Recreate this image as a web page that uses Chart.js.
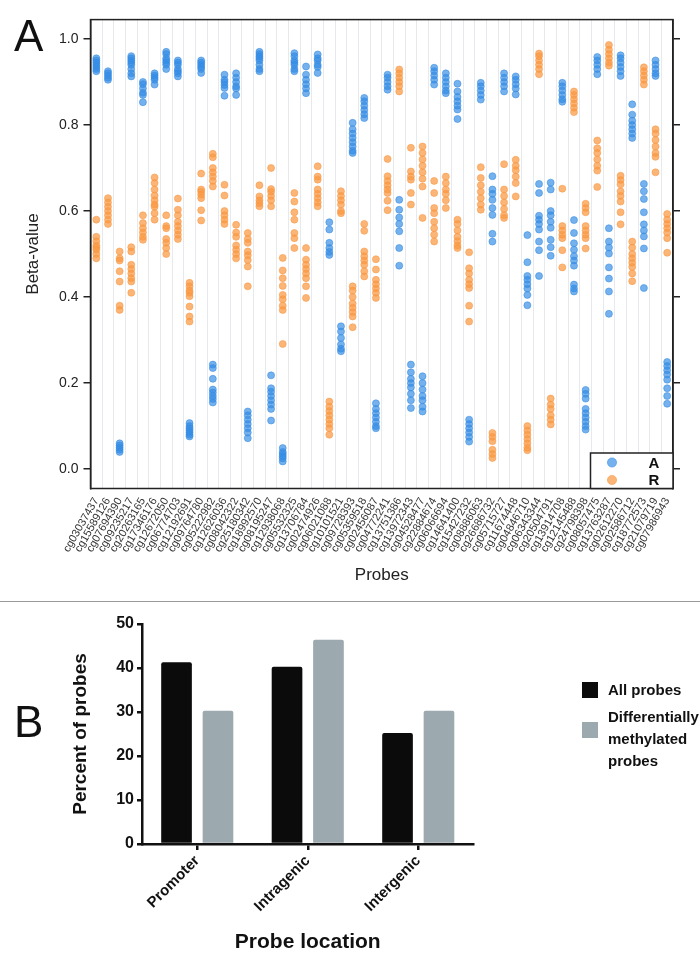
<!DOCTYPE html>
<html>
<head>
<meta charset="utf-8">
<script src="https://cdn.jsdelivr.net/npm/chart.js@4.4.1/dist/chart.umd.min.js"></script>
<style>
  body { margin:0; background:#fff; font-family:"Liberation Sans", Arial, sans-serif; }
  #page { position:relative; width:700px; height:967px; overflow:hidden; }
  .panelLetter { position:absolute; font-size:44px; color:#111; line-height:1; }
  #sep { position:absolute; left:0; top:601px; width:700px; height:0; border-top:1.5px solid #9a9a9a; }
  .sw { position:absolute; width:16px; height:16px; }
  .legTxt { position:absolute; left:608px; font-weight:bold; font-size:15px; line-height:22px; color:#111; }
</style>
</head>
<body>
<div id="page">
  <canvas id="chartA" width="700" height="600" style="position:absolute;left:0;top:0"></canvas>
  <div id="sep"></div>
  <canvas id="chartB" width="700" height="367" style="position:absolute;left:0;top:600px"></canvas>
  <div class="panelLetter" style="left:14px;top:14px">A</div>
  <div class="panelLetter" style="left:14px;top:700px">B</div>
  <div class="sw" style="left:582px;top:682px;background:#0b0b0b"></div>
  <div class="legTxt" style="top:679px">All probes</div>
  <div class="sw" style="left:582px;top:722px;background:#9ca9ae"></div>
  <div class="legTxt" style="top:706px">Differentially<br>methylated<br>probes</div>
</div>
<script>
Chart.defaults.font.family = '"Liberation Sans", Arial, sans-serif';
Chart.defaults.color = '#222';

// ---- panel A data ----
const probes = ['cg03037437','cg15589126','cg07694390','cg09235217','cg20263165','cg17346176','cg12672050','cg06774703','cg12192691','cg09764780',
  'cg05222982','cg12626036','cg08042322','cg25180342','cg18992570','cg08195247','cg12938068','cg05532325','cg13706784','cg02474926',
  'cg06021088','cg10101521','cg09728393','cg05359518','cg02456087','cg04772241','cg13751386','cg13972343','cg04528477','cg22884674',
  'cg06066694','cg14641400','cg15427232','cg08886063','cg26686732','cg05715727','cg11674448','cg04846710','cg06343344','cg20504791',
  'cg13914708','cg12145488','cg24798398','cg08057475','cg13763287','cg02612270','cg02586712','cg18772573','cg21079719','cg07986943'];

const groupA = [
  [0.955,0.95,0.945,0.94,0.935,0.93,0.925],
  [0.925,0.92,0.915,0.91,0.905],
  [0.06,0.055,0.05,0.045,0.04],
  [0.96,0.955,0.95,0.945,0.94,0.93,0.92,0.913],
  [0.9,0.895,0.885,0.875,0.87,0.853],
  [0.92,0.915,0.91,0.905,0.894],
  [0.97,0.965,0.955,0.95,0.945,0.94,0.93],
  [0.95,0.945,0.94,0.93,0.925,0.92,0.913],
  [0.107,0.1,0.095,0.09,0.085,0.08,0.076],
  [0.95,0.945,0.94,0.935,0.93,0.921],
  [0.243,0.235,0.21,0.185,0.178,0.17,0.163,0.155],
  [0.917,0.905,0.9,0.893,0.886,0.868],
  [0.92,0.91,0.9,0.89,0.885,0.87],
  [0.134,0.125,0.115,0.105,0.095,0.085,0.072],
  [0.97,0.965,0.96,0.955,0.95,0.94,0.93,0.925],
  [0.218,0.188,0.18,0.17,0.16,0.15,0.14,0.113],
  [0.049,0.04,0.035,0.03,0.025,0.018],
  [0.967,0.96,0.95,0.945,0.94,0.93,0.925],
  [0.936,0.917,0.905,0.895,0.885,0.874],
  [0.964,0.955,0.95,0.94,0.935,0.921],
  [0.574,0.557,0.526,0.514,0.505,0.498],
  [0.332,0.32,0.305,0.29,0.28,0.274],
  [0.805,0.79,0.78,0.77,0.76,0.75,0.74,0.735],
  [0.863,0.855,0.845,0.835,0.825,0.816],
  [0.153,0.14,0.13,0.12,0.11,0.1,0.095],
  [0.917,0.91,0.9,0.89,0.882],
  [0.626,0.603,0.585,0.57,0.553,0.514,0.473],
  [0.243,0.225,0.21,0.2,0.19,0.175,0.16,0.142],
  [0.216,0.2,0.185,0.17,0.16,0.145,0.134],
  [0.933,0.925,0.915,0.905,0.894],
  [0.92,0.91,0.9,0.89,0.88,0.874],
  [0.896,0.878,0.865,0.855,0.845,0.836,0.814],
  [0.115,0.105,0.095,0.085,0.075,0.064],
  [0.898,0.89,0.88,0.87,0.859],
  [0.681,0.65,0.64,0.626,0.607,0.591,0.547,0.529],
  [0.92,0.91,0.9,0.89,0.878],
  [0.913,0.905,0.895,0.885,0.871],
  [0.544,0.481,0.449,0.44,0.43,0.42,0.405,0.381],
  [0.663,0.642,0.589,0.58,0.57,0.557,0.529,0.509,0.449],
  [0.666,0.65,0.6,0.59,0.575,0.561,0.533,0.516,0.496],
  [0.898,0.89,0.88,0.87,0.86,0.854],
  [0.579,0.549,0.525,0.51,0.495,0.485,0.473,0.429,0.42,0.413],
  [0.184,0.175,0.164,0.14,0.13,0.12,0.11,0.1,0.092],
  [0.958,0.95,0.94,0.93,0.918],
  [0.56,0.529,0.515,0.501,0.469,0.443,0.413,0.361],
  [0.962,0.955,0.945,0.935,0.925,0.914],
  [0.848,0.824,0.81,0.8,0.79,0.78,0.77],
  [0.663,0.646,0.628,0.597,0.569,0.555,0.541,0.513,0.421],
  [0.95,0.94,0.93,0.92,0.914],
  [0.249,0.24,0.23,0.22,0.208,0.188,0.17,0.152]
];

const groupR = [
  [0.58,0.54,0.53,0.52,0.515,0.51,0.5,0.49],
  [0.63,0.62,0.61,0.6,0.59,0.58,0.57],
  [0.506,0.49,0.485,0.46,0.436,0.38,0.37],
  [0.516,0.506,0.475,0.465,0.455,0.444,0.436,0.41],
  [0.59,0.572,0.56,0.55,0.54,0.533],
  [0.678,0.665,0.65,0.636,0.625,0.615,0.61,0.595,0.58],
  [0.59,0.565,0.56,0.535,0.526,0.514,0.5],
  [0.629,0.603,0.59,0.575,0.565,0.555,0.545,0.535],
  [0.433,0.425,0.415,0.41,0.402,0.378,0.355,0.343],
  [0.687,0.65,0.645,0.638,0.63,0.602,0.578],
  [0.733,0.725,0.7,0.69,0.68,0.67,0.657],
  [0.661,0.636,0.6,0.59,0.58,0.57],
  [0.568,0.55,0.54,0.52,0.51,0.5,0.49],
  [0.549,0.535,0.526,0.506,0.497,0.486,0.471,0.425],
  [0.66,0.634,0.625,0.618,0.611],
  [0.7,0.651,0.645,0.635,0.625,0.611],
  [0.491,0.462,0.444,0.426,0.405,0.395,0.38,0.37,0.291],
  [0.642,0.622,0.597,0.58,0.549,0.537,0.514],
  [0.514,0.487,0.475,0.465,0.455,0.444,0.425,0.398],
  [0.704,0.68,0.673,0.65,0.64,0.63,0.62,0.611],
  [0.157,0.145,0.135,0.125,0.115,0.105,0.095,0.08],
  [0.646,0.635,0.625,0.615,0.6,0.595],
  [0.425,0.415,0.4,0.385,0.375,0.365,0.355,0.33],
  [0.57,0.554,0.506,0.495,0.485,0.475,0.46,0.448],
  [0.488,0.464,0.44,0.43,0.42,0.41,0.398],
  [0.721,0.681,0.67,0.66,0.65,0.642,0.624,0.602],
  [0.929,0.92,0.91,0.9,0.89,0.878],
  [0.747,0.692,0.68,0.673,0.642,0.615],
  [0.75,0.735,0.72,0.705,0.69,0.675,0.657,0.584],
  [0.67,0.642,0.607,0.595,0.575,0.56,0.545,0.529],
  [0.68,0.665,0.65,0.64,0.625,0.607],
  [0.58,0.57,0.555,0.54,0.53,0.52,0.514],
  [0.504,0.467,0.455,0.44,0.43,0.421,0.38,0.343],
  [0.702,0.677,0.66,0.645,0.63,0.615,0.603],
  [0.084,0.075,0.065,0.045,0.035,0.026],
  [0.709,0.65,0.635,0.62,0.605,0.59,0.584],
  [0.719,0.705,0.695,0.68,0.665,0.634],
  [0.1,0.09,0.08,0.07,0.06,0.05,0.044],
  [0.966,0.96,0.95,0.94,0.93,0.918],
  [0.164,0.15,0.14,0.125,0.115,0.104],
  [0.652,0.565,0.555,0.545,0.537,0.509,0.469],
  [0.878,0.87,0.86,0.85,0.84,0.83],
  [0.617,0.607,0.597,0.565,0.555,0.545,0.537,0.513],
  [0.764,0.746,0.735,0.72,0.705,0.694,0.656],
  [0.986,0.975,0.965,0.955,0.945,0.938],
  [0.682,0.672,0.662,0.646,0.635,0.622,0.597,0.569],
  [0.529,0.515,0.5,0.49,0.48,0.47,0.455,0.437],
  [0.934,0.925,0.915,0.905,0.894],
  [0.79,0.78,0.765,0.75,0.735,0.726,0.69],
  [0.593,0.58,0.57,0.56,0.55,0.537,0.503]
];

// ---- panel B data ----
const locations = ['Promoter','Intragenic','Intergenic'];
const allProbes = [41.3, 40.3, 25.2];
const dmProbes = [30.3, 46.4, 30.3];

const blueFill = 'rgba(52,140,228,0.68)', blueLine = 'rgba(52,140,228,0.55)';
const orangeFill = 'rgba(250,152,66,0.72)', orangeLine = 'rgba(250,152,66,0.55)';

function toPoints(groups){
  let pts = [];
  groups.forEach((vals, i) => vals.forEach(v => pts.push({x: probes[i], y: v})));
  return pts;
}

const frameA = {
  id: 'frameA',
  afterDraw(chart){
    const {ctx, chartArea: a} = chart;
    ctx.save();
    ctx.strokeStyle = '#222';
    ctx.lineWidth = 1.5;
    ctx.strokeRect(a.left, a.top, a.right - a.left, a.bottom - a.top);
    // legend box in the bottom right corner
    const lx = 590.5, ly = 453;
    ctx.fillStyle = '#fff';
    ctx.fillRect(lx, ly, a.right - lx, a.bottom - ly);
    ctx.strokeRect(lx, ly, a.right - lx, a.bottom - ly);
    [[blueFill, blueLine, 'A', ly + 9.5], [orangeFill, orangeLine, 'R', ly + 27]].forEach(([f, s, t, y]) => {
      ctx.beginPath();
      ctx.arc(612, y, 4.6, 0, Math.PI * 2);
      ctx.fillStyle = f; ctx.fill();
      ctx.strokeStyle = s; ctx.lineWidth = 1; ctx.stroke();
      ctx.fillStyle = '#111';
      ctx.font = 'bold 15px "Liberation Sans", Arial, sans-serif';
      ctx.textAlign = 'center'; ctx.textBaseline = 'middle';
      ctx.fillText(t, 654, y + 1);
    });
    ctx.restore();
  }
};

new Chart(document.getElementById('chartA'), {
  type: 'line',
  data: {
    labels: probes,
    datasets: [
      { label: 'A', data: toPoints(groupA), showLine: false, pointRadius: 3.5,
        backgroundColor: blueFill, borderColor: blueLine, pointBorderWidth: 1 },
      { label: 'R', data: toPoints(groupR), showLine: false, pointRadius: 3.5,
        backgroundColor: orangeFill, borderColor: orangeLine, pointBorderWidth: 1 }
    ]
  },
  options: {
    responsive: false,
    animation: false,
    devicePixelRatio: 1,
    layout: { padding: { top: 19.6, right: 0, left: 0, bottom: 0 } },
    plugins: { legend: { display: false }, tooltip: { enabled: false } },
    scales: {
      x: {
        type: 'category',
        offset: true,
        afterFit: s => { s.height = 111.5; },
        grid: { offset: true, color: '#e6eaee', lineWidth: 1, drawTicks: false },
        border: { display: false },
        ticks: { autoSkip: false, maxRotation: 60, minRotation: 60, padding: 7,
                 font: { size: 11 }, color: '#333' },
        title: { display: true, text: 'Probes', font: { size: 17 }, color: '#222',
                 padding: { top: 0, bottom: 14 } }
      },
      y: {
        min: -0.045, max: 1.045,
        afterFit: s => { s.width = 90.5; },
        grid: { drawOnChartArea: false, tickLength: 7, color: '#222', lineWidth: 1.5 },
        border: { display: true, color: '#222', width: 1.5 },
        ticks: { stepSize: 0.2, includeBounds: false, padding: 5, font: { size: 14 }, color: '#222',
                 callback: v => v.toFixed(1) },
        title: { display: true, text: 'Beta-value', font: { size: 17 }, color: '#222',
                 padding: { top: 23, bottom: 0 } }
      },
      y2: {
        position: 'right',
        min: -0.045, max: 1.045,
        afterFit: s => { s.width = 27; },
        grid: { drawOnChartArea: false, tickLength: 7, color: '#222', lineWidth: 1.5 },
        border: { display: true, color: '#222', width: 1.5 },
        ticks: { stepSize: 0.2, includeBounds: false, display: false }
      }
    }
  },
  plugins: [frameA]
});

new Chart(document.getElementById('chartB'), {
  type: 'bar',
  data: {
    labels: locations,
    datasets: [
      { label: 'All probes', data: allProbes, backgroundColor: '#0b0b0b',
        borderRadius: { topLeft: 2, topRight: 2 }, borderSkipped: 'bottom' },
      { label: 'Differentially methylated probes', data: dmProbes, backgroundColor: '#9ca9ae',
        borderRadius: { topLeft: 2, topRight: 2 }, borderSkipped: 'bottom' }
    ]
  },
  options: {
    responsive: false,
    animation: false,
    devicePixelRatio: 1,
    categoryPercentage: 0.75,
    barPercentage: 0.74,
    layout: { padding: { top: 24, right: 226.5, left: 0, bottom: 0 } },
    plugins: { legend: { display: false }, tooltip: { enabled: false } },
    scales: {
      x: {
        afterFit: s => { s.height = 123; },
        grid: { offset: false, drawOnChartArea: false, tickLength: 6, color: '#111', lineWidth: 2.5 },
        border: { display: true, color: '#111', width: 2.5 },
        ticks: { maxRotation: 45, minRotation: 45, padding: 2,
                 font: { size: 15, weight: 'bold' }, color: '#111' },
        title: { display: true, text: 'Probe location', font: { size: 21, weight: 'bold' }, color: '#111',
                 padding: { top: 0, bottom: 12 } }
      },
      y: {
        min: 0, max: 50,
        afterFit: s => { s.width = 142; },
        grid: { drawOnChartArea: false, tickLength: 5, color: '#111', lineWidth: 2.5 },
        border: { display: true, color: '#111', width: 2.5 },
        ticks: { stepSize: 10, padding: 3, font: { size: 16, weight: 'bold' }, color: '#111' },
        title: { display: true, text: 'Percent of probes', font: { size: 19, weight: 'bold' }, color: '#111',
                 padding: { top: 69, bottom: 0 } }
      }
    }
  }
});
</script>
</body>
</html>
